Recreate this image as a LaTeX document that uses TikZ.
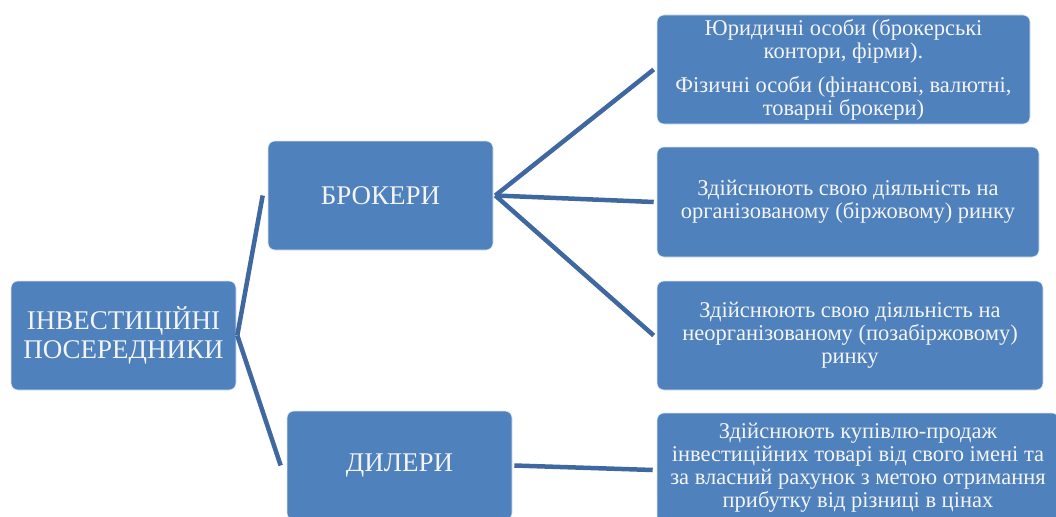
\documentclass[tikz,border=0pt]{standalone}
\usepackage{fontspec}
\setmainfont{Liberation Serif}
\definecolor{boxblue}{RGB}{79,129,189}
\definecolor{linkblue}{RGB}{64,104,160}
\definecolor{boxtext}{RGB}{244,244,244}
\begin{document}
\begin{tikzpicture}[x=1pt,y=-1pt,
  card/.style={rectangle, rounded corners=7pt, fill=boxblue,
    draw=white!80!boxblue, line width=0.6pt, text=boxtext,
    align=center, inner sep=0pt},
  bigtext/.style={font=\fontsize{27}{29}\selectfont},
  smalltext/.style={font=\fontsize{22.5}{23}\selectfont},
  link/.style={draw=linkblue, line width=4.5pt}]
\useasboundingbox (0,0) rectangle (1056,516);
\begin{scope}
\clip (0,0) rectangle (1056,516);
% left column
\node[card, bigtext, minimum width=225pt, minimum height=109pt] (root)
  at (123.5,335.5) {ІНВЕСТИЦІЙНІ\\ПОСЕРЕДНИКИ};
\node[card, bigtext, minimum width=225pt, minimum height=109pt] (brok)
  at (380.5,195.5) {БРОКЕРИ};
\node[card, bigtext, minimum width=225pt, minimum height=109pt] (deal)
  at (399.5,465.5) {ДИЛЕРИ};
% right column
\node[card, smalltext, minimum width=373pt, minimum height=109pt] (b1)
  at (843.5,69.5) {Юридичні особи (брокерські\\контори, фірми).\\[11pt]
  Фізичні особи (фінансові, валютні,\\товарні брокери)};
\node[card, smalltext, minimum width=382pt, minimum height=110pt] (b2)
  at (848,202) {Здійснюють свою діяльність на\\організованому (біржовому) ринку};
\node[card, smalltext, minimum width=386pt, minimum height=109pt] (b3)
  at (850,335.5) {Здійснюють свою діяльність на\\неорганізованому (позабіржовому)\\ринку};
\node[card, smalltext, minimum width=402pt, minimum height=110pt] (b4)
  at (858,468) {Здійснюють купівлю-продаж\\інвестиційних товарі від свого імені та\\за власний рахунок з метою отримання\\прибутку від різниці в цінах};
% connectors
\draw[link] ([xshift=1pt]root.east) -- ([xshift=-5pt]brok.west);
\draw[link] ([xshift=1pt]root.east) -- ([xshift=-6pt]deal.west);
\draw[link] ([xshift=2pt]brok.east) -- ([xshift=-3pt]b1.west);
\draw[link] ([xshift=2pt]brok.east) -- ([xshift=-3pt]b2.west);
\draw[link] ([xshift=2pt]brok.east) -- ([xshift=-3pt]b3.west);
\draw[link] ([xshift=2pt]deal.east) -- ([xshift=-4pt,yshift=-2pt]b4.west);
\end{scope}
\end{tikzpicture}
\end{document}
